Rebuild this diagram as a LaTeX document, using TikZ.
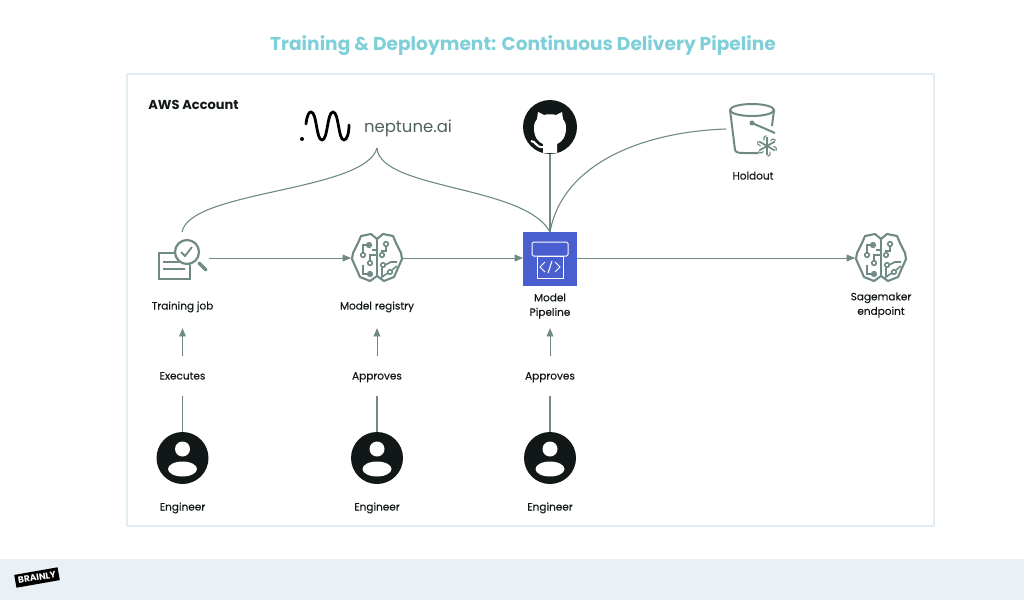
\documentclass[tikz,border=0pt]{standalone}
\usepackage{fontspec}
\setmainfont{Poppins}
\newfontfamily\labelfont[FakeBold=0.25]{Poppins}
\usepackage{tikz}
\usetikzlibrary{arrows}

\definecolor{linegreen}{HTML}{6F8A84}
\definecolor{inkdark}{HTML}{121817}
\definecolor{titleblue}{HTML}{7FCFD8}
\definecolor{framegray}{HTML}{E3EEF4}
\definecolor{footerblue}{HTML}{E9F0F6}
\definecolor{pipeblue}{HTML}{4A5FCF}

\tikzset{
  brainpic/.pic={
    \draw [linegreen, line width=2.1pt, line join=round]
      (0,-19) -- (-6,-24) -- (-16,-22) -- (-19,-15) -- (-24,-5) -- (-25,1) -- (-21,10) -- (-17,19) -- (-7,23) -- (0,18)
      -- (7,23) -- (17,19) -- (21,10) -- (25,1) -- (24,-5) -- (19,-15) -- (16,-22) -- (6,-24) -- cycle;
    \draw [linegreen, line width=2.1pt] (0,-19) -- (0,18);
    \draw [linegreen, line width=1.6pt]
      (-6,-13) -- (-14,-13) -- (-14,-5)
      (0,-8) -- (-5,-8) (-7,3) -- (-7,-3) -- (0,-3)
      (-5,16) -- (-14,16) -- (-14,7)
      (9,-12) -- (9,-7) -- (5,-7) -- (5,-5)
      (8,7) -- (14,4) -- (20,4)
      (11,15) -- (5,19) -- (5,10)
      (15,12) -- (20,8);
    \foreach \cx/\cy in {-8/-13,-14/-3,-7/5,-7/16,9/-14,5/-3,6/7,13/14}
      \draw [linegreen, line width=1.6pt] (\cx,\cy) circle (2.3);
  },
  searchpic/.pic={
    \draw [linegreen, line width=2.2pt] (-23,-6) rectangle (8,20);
    \draw [linegreen, line width=2.2pt] (-19,3) -- (3,3) (-19,10) -- (3,10);
    \fill [white] (5,-7) circle (13);
    \draw [linegreen, line width=2.2pt] (5,-7) circle (12);
    \draw [linegreen, line width=1.8pt] (-1,-7) -- (3,-3) -- (10,-12);
    \draw [linegreen, line width=3.4pt, line cap=round] (17,4) -- (24,11);
  },
  bucketpic/.pic={
    \draw [linegreen, line width=2pt] (0,-19) ellipse (22 and 6);
    \draw [linegreen, line width=2pt, line join=round]
      (-22,-19) -- (-17,21) .. controls (-16,24) and (-12,24) .. (-8,24) -- (8,24);
    \draw [linegreen, line width=2pt] (22,-19) -- (20,-3);
    \fill [linegreen] (0,-6) circle (2.5);
    \draw [linegreen, line width=2pt] (0,-6) -- (23,4);
    \fill [white] (15,17) circle (11);
    \foreach \ang in {30,90,150} {
      \draw [linegreen, line width=1.7pt] (15,17) ++(\ang:9) -- ++(\ang+180:18);
    }
    \foreach \ang in {30,90,150,210,270,330} {
      \draw [linegreen, line width=1.1pt] (15,17) ++(\ang-28:6.5) -- ++(\ang:3) -- ++(\ang+56:3);
    }
  },
  cloudcat/.pic={
    \fill [inkdark] (0,0) circle (27);
    \fill [white] (-7,26) -- (-7,17) .. controls (-12,15) and (-16,10) .. (-16,1)
      .. controls (-16,-3) and (-15,-6) .. (-13,-8) -- (-12,-15) -- (-6,-12)
      .. controls (-3,-13) and (3,-13) .. (6,-12) -- (12,-15) -- (13,-8)
      .. controls (15,-6) and (16,-3) .. (16,1) .. controls (16,10) and (12,15) .. (7,17)
      -- (7,26) -- cycle;
    \draw [white, line width=2pt] (-7,20) .. controls (-14,21) and (-14,14) .. (-19,14);
  },
  personpic/.pic={
    \fill [inkdark] (0,0) circle (26);
    \fill [white] (0,-9) circle (7.5);
    \fill [white] (0,11) ellipse (14.5 and 7.5);
  },
  pipepic/.pic={
    \draw [white, line width=1pt, rounded corners=1.5pt] (-18,-17) rectangle (18,-3);
    \draw [white, line width=1pt] (-13,-3) rectangle (13,19);
    \draw [white, line width=1pt] (-5,3) -- (-10,8) -- (-5,13) (5,3) -- (10,8) -- (5,13) (2,2) -- (-2,14);
  }
}

\begin{document}
\begin{tikzpicture}[x=1pt, y=-1pt, font=\labelfont\fontsize{10.5}{14.5}\selectfont, text=inkdark]
	\tikzstyle{caption} = [align=center, inner sep=0pt]
	\tikzstyle{oneline} = [text height=9.5pt, text depth=2.5pt]
	\tikzstyle{vlabel} = [inner sep=0pt, minimum height=40pt, oneline]
	\tikzstyle{nlabel} = [align=center, inner sep=0pt, minimum height=44pt]
	\tikzstyle{iconbox} = [rectangle, minimum width=54pt, minimum height=54pt, inner sep=0pt, outer sep=0pt]
	\tikzstyle{brainbox} = [rectangle, minimum width=52pt, minimum height=52pt, inner sep=0pt, outer sep=0pt]
	\tikzstyle{personbox} = [circle, minimum size=52pt, inner sep=0pt, outer sep=0pt]
	\tikzstyle{arrow} = [->, >=triangle 45, linegreen, line width=0.9pt]
	\tikzstyle{link} = [linegreen, line width=1.1pt]

	\useasboundingbox (0,0) rectangle (1024,600);

	% Page furniture
	\fill [footerblue] (0,559) rectangle (1024,600);
	\node (frame) [rectangle, draw=framegray, line width=2pt, minimum width=807pt, minimum height=452pt, inner sep=0pt] at (530,299.5) {};
	\node (title) [caption, text=titleblue, font=\fontsize{18.6}{22}\selectfont\bfseries] at (523,45.5) {Training \& Deployment: Continuous Delivery Pipeline};
	\node (aws) [caption, font=\fontsize{13}{15}\selectfont\bfseries] at (193.5,104.5) {AWS Account};
	\node (brainly) [rectangle, fill=black, text=white, inner sep=0pt, minimum width=44pt, minimum height=13pt, rotate=10, font=\fontsize{9}{10}\selectfont\bfseries] at (37,577.5) {BRAINLY};

	% Top row
	\draw [black, line width=2.8pt, line cap=round] (306,124) .. controls (307,115) and (309,112) .. (311,112)
		.. controls (317,112) and (316,140) .. (322,140) .. controls (328,140) and (327,112) .. (333,112)
		.. controls (339,112) and (338,140) .. (344,140) .. controls (347,140) and (349,133) .. (349,125);
	\fill [black] (302,139) circle (2);
	\node (neptune) [caption, text=linegreen!70!black, font=\fontsize{16.5}{20}\selectfont] at (408,128.5) {neptune.ai};
	\coordinate (neptunetip) at (377,148);

	\node (github) [circle, minimum size=54pt, inner sep=0pt, outer sep=0pt] at (550,127) {};
	\pic at (github) {cloudcat};

	\node (holdout) [rectangle, minimum width=52pt, minimum height=50pt, inner sep=0pt, outer sep=0pt] at (752,129) {};
	\pic at (holdout) {bucketpic};
	\node (holdoutlabel) [caption, oneline] at (753,176) {Holdout};

	% Middle row
	\node (training) [iconbox] at (182,259) {};
	\pic at (training) {searchpic};
	\node (registry) [brainbox] at (377,258) {};
	\pic at (registry) {brainpic};
	\node (pipeline) [iconbox, fill=pipeblue] at (550,259) {};
	\pic at (pipeline) {pipepic};
	\node (endpoint) [brainbox] at (881,258) {};
	\pic at (endpoint) {brainpic};

	\node (traininglabel) [nlabel, oneline] at (182.5,306) {Training job};
	\node (registrylabel) [nlabel, oneline] at (377,306) {Model registry};
	\node (pipelinelabel) [nlabel] at (550,306) {Model\\Pipeline};
	\node (endpointlabel) [caption] at (881,305) {Sagemaker\\endpoint};

	% Bottom rows
	\node (executes) [vlabel] at (182.5,376) {Executes};
	\node (approves1) [vlabel] at (377,376) {Approves};
	\node (approves2) [vlabel] at (550,376) {Approves};

	\node (engineer1) [personbox] at (182.5,458) {};
	\node (engineer2) [personbox] at (377,458) {};
	\node (engineer3) [personbox] at (550,458) {};
	\pic at (engineer1) {personpic};
	\pic at (engineer2) {personpic};
	\pic at (engineer3) {personpic};
	\node (engineerlabel1) [caption, oneline] at (182.5,507) {Engineer};
	\node (engineerlabel2) [caption, oneline] at (377,507) {Engineer};
	\node (engineerlabel3) [caption, oneline] at (550,507) {Engineer};

	% Arrows
	\draw [arrow] (training.east |- registry) -- (registry.west);
	\draw [arrow] (registry.east) -- (pipeline.west |- registry);
	\draw [arrow] (pipeline.east |- endpoint) -- (endpoint.west);
	\draw [arrow] (executes.north) -- (traininglabel.south);
	\draw [arrow] (approves1.north) -- (registrylabel.south);
	\draw [arrow] (approves2.north) -- (pipelinelabel.south);
	\draw [link] (engineer1.north) -- (executes.south);
	\draw [link] (engineer2.north) -- (approves1.south);
	\draw [link] (engineer3.north) -- (approves2.south);

	% Curved links
	\draw [link, line width=1.4pt] (github.south) -- (pipeline.north);
	\draw [link] (holdout.west) .. controls (640,132) and (562,165) .. (pipeline.north);
	\draw [link] (training.north) .. controls (190,190) and (365,192) .. (neptunetip);
	\draw [link] (neptunetip) .. controls (380,190) and (525,185) .. (pipeline.north);
\end{tikzpicture}
\end{document}
